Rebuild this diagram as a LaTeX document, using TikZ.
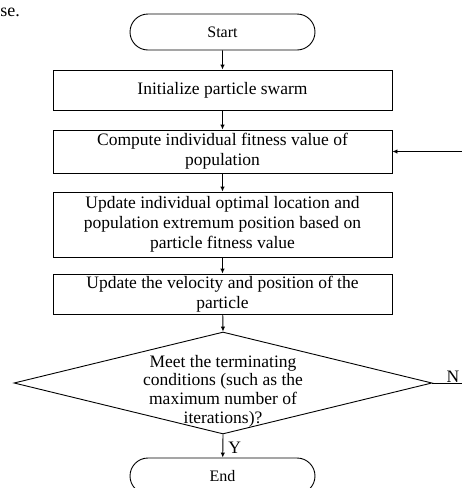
\documentclass[tikz,border=0pt]{standalone}
\usepackage{fontspec}
\setmainfont{Liberation Serif}
\usetikzlibrary{shapes.geometric,shapes.misc,arrows.meta}
\begin{document}
\begin{tikzpicture}[x=1pt,y=-1pt,
  font=\fontsize{17.5}{20}\selectfont,
  line width=0.9pt,
  box/.style={draw, minimum width=339pt, align=center, inner sep=0pt},
  term/.style={draw, rounded rectangle, minimum width=185pt, minimum height=36pt, inner sep=0pt, font=\fontsize{16}{20}\selectfont},
  arr/.style={-{Latex[length=5pt,width=4.5pt]}},
  lbl/.style={inner sep=0pt}]
\useasboundingbox (0,0) rectangle (462,488);
\node[lbl, anchor=base west, font=\fontsize{18}{20}\selectfont] (se) at (0,16) {se.};
\node[term] (start) at (222.5,32) {Start};
\node[box, minimum height=40pt] (init) at (222.5,90) {Initialize particle swarm};
\node[box, minimum height=43pt] (comp) at (222.5,151.5) {\raisebox{-2pt}{\parbox{339pt}{\centering Compute individual fitness value of\\population}}};
\node[box, minimum height=65pt] (upd) at (222.5,224.5) {\raisebox{-2pt}{\parbox{339pt}{\centering Update individual optimal location and\\population extremum position based on\\particle fitness value}}};
\node[box, minimum height=40pt] (vel) at (222.5,294) {Update the velocity and position of the\\particle};
\node[draw, diamond, minimum width=418pt, minimum height=102pt, inner sep=0pt] (dec) at (223,383) {};
\node[lbl, align=center, font=\fontsize{17.5}{18.6}\selectfont] (dect) at (223,391) {Meet the terminating\\conditions (such as the\\maximum number of\\iterations)?};
\node[term] (end) at (222.5,476) {End};
\node[lbl, anchor=west] (y) at (228,448) {Y};
\node[lbl] (n) at (453,377) {N};
\coordinate (c1) at (466,383);
\coordinate (c2) at (466,151.5);
\draw[arr] (start) -- (init);
\draw[arr] (init) -- (comp);
\draw[arr] (comp) -- (upd);
\draw[arr] (upd) -- (vel);
\draw[arr] (vel) -- (dec.north);
\draw[arr] (dec.south) -- (end);
\draw[arr] (dec.east) -- (c1) -- (c2) -- (comp.east);
\end{tikzpicture}
\end{document}
